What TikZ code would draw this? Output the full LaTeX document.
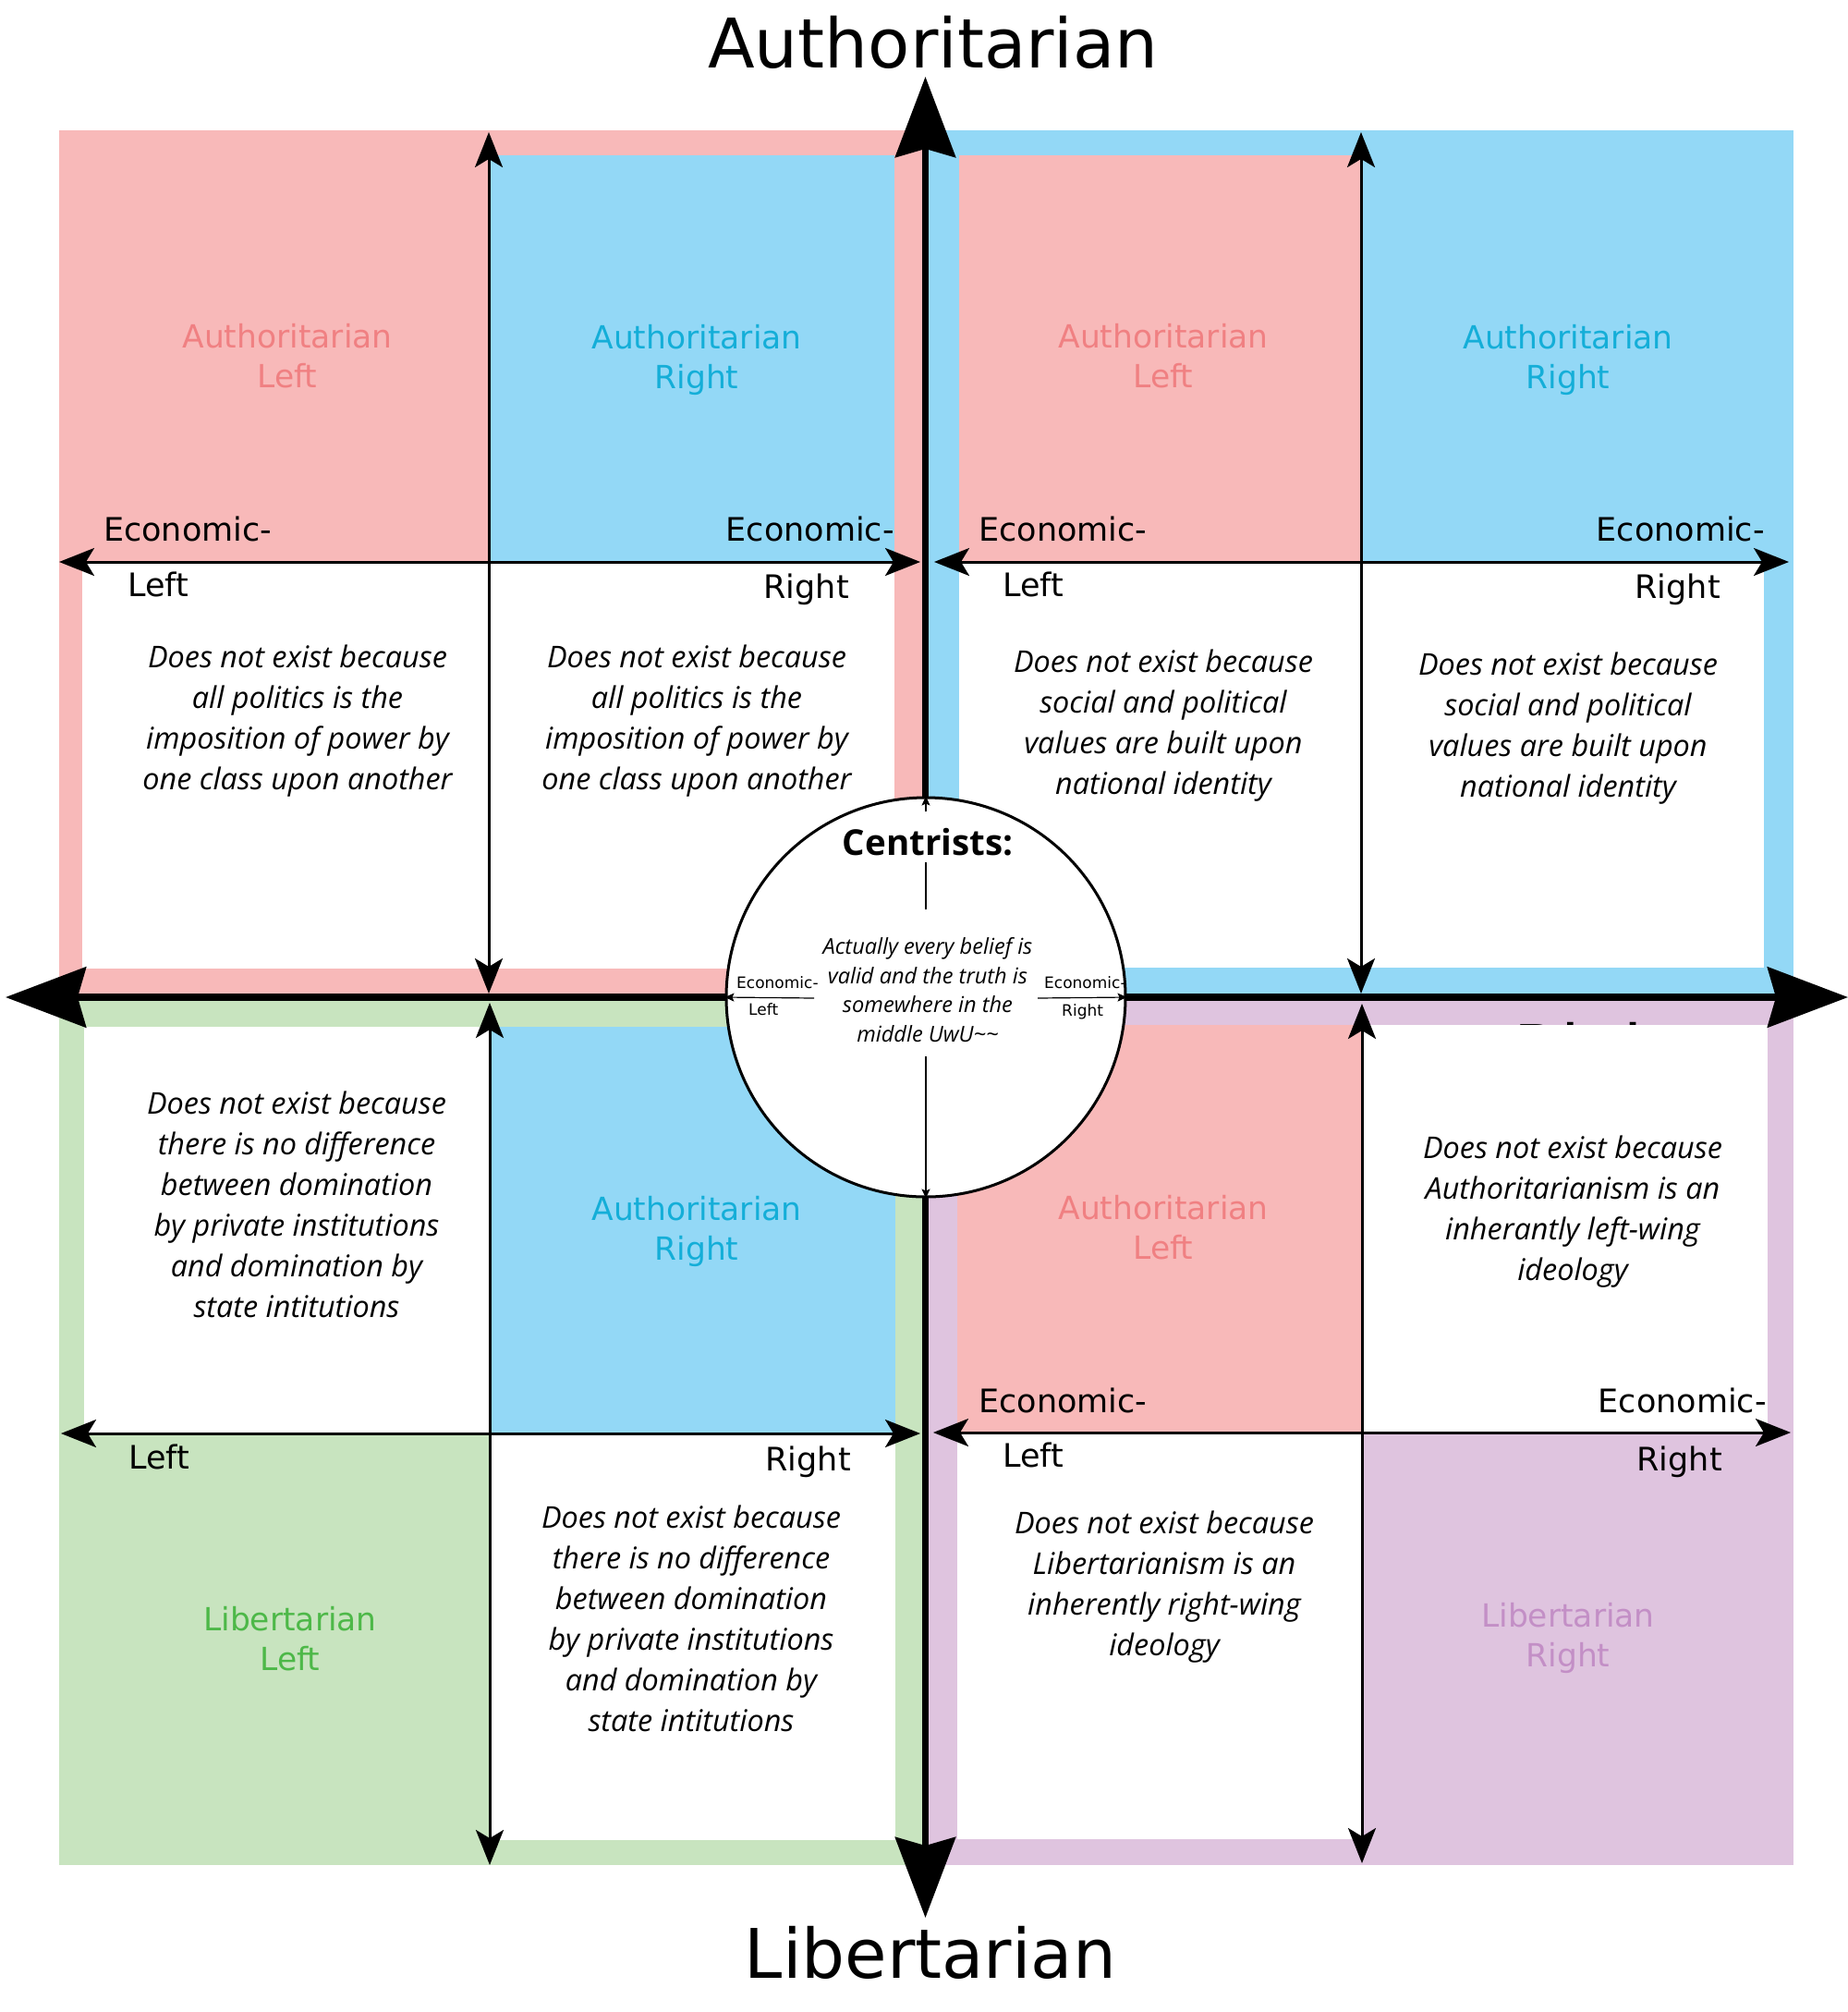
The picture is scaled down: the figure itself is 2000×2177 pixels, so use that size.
\documentclass[tikz,border=0pt]{standalone}
\usepackage{fontspec}
\setmainfont{DejaVu Sans}
\newfontfamily\osans{Open Sans}
\usetikzlibrary{arrows.meta}
\definecolor{pinkF}{RGB}{248,185,185}
\definecolor{blueF}{RGB}{147,216,246}
\definecolor{greenF}{RGB}{200,228,191}
\definecolor{purpleF}{RGB}{223,196,223}
\definecolor{pinkT}{RGB}{240,128,130}
\definecolor{blueT}{RGB}{20,174,216}
\definecolor{greenT}{RGB}{77,184,72}
\definecolor{purpleT}{RGB}{195,143,198}
\tikzset{
  qlabel/.style={font=\fontsize{34.5}{43}\selectfont, align=center, inner sep=0pt},
  note/.style={font=\osans\itshape\fontsize{32.4}{44}\selectfont, align=center, inner sep=0pt},
  econ/.style={font=\fontsize{35}{42}\selectfont, inner sep=0pt},
  smallecon/.style={font=\fontsize{17}{20}\selectfont, inner sep=0pt},
  title/.style={font=\fontsize{74}{80}\selectfont, inner sep=0pt, anchor=base},
  subaxis/.style={line width=3pt, {Stealth[length=38pt,width=30pt,inset=9pt]}-{Stealth[length=38pt,width=30pt,inset=9pt]}},
  mainaxis/.style={line width=7.5pt, {Stealth[length=87pt,width=65pt,inset=9pt]}-{Stealth[length=87pt,width=65pt,inset=9pt]}},
  inaxis/.style={line width=1.2pt, -{Stealth[length=10pt,width=9pt,inset=2pt]}},
  inline/.style={line width=1.2pt}
}
\begin{document}
\begin{tikzpicture}[x=1pt,y=-1pt]
\useasboundingbox (0,0) rectangle (2000,2177);

% ---------- top-left quadrant ----------
\fill[pinkF] (64,141) rectangle (1000,1079);
\fill[blueF] (529,168) rectangle (968,608);
\fill[white] (89,608) rectangle (968,1048);
% ---------- top-right quadrant ----------
\fill[blueF] (1000,141) rectangle (1941,1079);
\fill[pinkF] (1038,168) rectangle (1473,608);
\fill[white] (1038,608) rectangle (1909,1047);
% ---------- bottom-left quadrant ----------
\fill[greenF] (64,1079) rectangle (1000,2018);
\fill[white] (91,1111) rectangle (530,1551);
\fill[blueF] (530,1111) rectangle (969,1551);
\fill[white] (530,1551) rectangle (969,1991);
% ---------- bottom-right quadrant ----------
\fill[purpleF] (1000,1079) rectangle (1941,2018);
\node[font=\fontsize{74}{80}\selectfont, inner sep=0pt, anchor=base west] (hidden) at (1638,1162) {Right};
\fill[pinkF] (1036,1109) rectangle (1474,1550);
\fill[white] (1474,1109) rectangle (1913,1550);
\fill[white] (1036,1550) rectangle (1474,1990);

% ---------- axis end points ----------
\coordinate (tlT) at (529,143);  \coordinate (tlB) at (529,1075);
\coordinate (tlL) at (64,608);   \coordinate (tlR) at (996,608);
\coordinate (trT) at (1473,143); \coordinate (trB) at (1473,1075);
\coordinate (trL) at (1011,608); \coordinate (trR) at (1936,608);
\coordinate (blT) at (530,1085); \coordinate (blB) at (530,2018);
\coordinate (blL) at (66,1551);  \coordinate (blR) at (996,1551);
\coordinate (brT) at (1474,1086); \coordinate (brB) at (1474,2016);
\coordinate (brL) at (1010,1550); \coordinate (brR) at (1938,1550);
\coordinate (mT) at (1001.5,83);  \coordinate (mB) at (1001.5,2075);
\coordinate (mL) at (6,1079);     \coordinate (mR) at (2000,1079);

\draw[subaxis] (tlT) -- (tlB);
\draw[subaxis] (tlL) -- (tlR);
\draw[subaxis] (trT) -- (trB);
\draw[subaxis] (trL) -- (trR);
\draw[subaxis] (blT) -- (blB);
\draw[subaxis] (blL) -- (blR);
\draw[subaxis] (brT) -- (brB);
\draw[subaxis] (brL) -- (brR);

\draw[mainaxis] (mT) -- (mB);
\draw[mainaxis] (mL) -- (mR);

% ---------- titles ----------
\node[title] (auth) at (1010,73.6) {Authoritarian};
\node[title] (lib) at (1007,2140) {Libertarian};

% ---------- quadrant labels ----------
\node[qlabel, text=pinkT] (tlAL) at (311,385) {Authoritarian\\Left};
\node[qlabel, text=blueT] (tlAR) at (754,389) {Authoritarian\\Right};
\node[qlabel, text=pinkT] (trAL) at (1259,385) {Authoritarian\\Left};
\node[qlabel, text=blueT] (trAR) at (1697,389) {Authoritarian\\Right};
\node[qlabel, text=blueT] (blAR) at (754,1332) {Authoritarian\\Right};
\node[qlabel, text=greenT] (blLL) at (314,1773) {Libertarian\\Left};
\node[qlabel, text=pinkT] (brAL) at (1259,1328) {Authoritarian\\Left};
\node[qlabel, text=purpleT] (brLR) at (1697,1772) {Libertarian\\Right};

% ---------- economic labels ----------
\node[econ, anchor=base west] (tlE1) at (112,585.5) {Economic-};
\node[econ, anchor=base west] (tlL1) at (138,645) {Left};
\node[econ, anchor=base east] (tlE2) at (968,585.5) {Economic-};
\node[econ, anchor=base east] (tlR2) at (919,647) {Right};
\node[econ, anchor=base west] (trE1) at (1059,585.5) {Economic-};
\node[econ, anchor=base west] (trL1) at (1085,645) {Left};
\node[econ, anchor=base east] (trE2) at (1910,585.5) {Economic-};
\node[econ, anchor=base east] (trR2) at (1862,647) {Right};
\node[econ, anchor=base west] (blL1) at (139,1589) {Left};
\node[econ, anchor=base east] (blR2) at (921,1591) {Right};
\node[econ, anchor=base west] (brE1) at (1059,1528) {Economic-};
\node[econ, anchor=base west] (brL1) at (1085,1587) {Left};
\node[econ, anchor=base east] (brE2) at (1912,1528) {Economic-};
\node[econ, anchor=base east] (brR2) at (1864,1591) {Right};

% ---------- notes ----------
\node[note] (n1) at (322,780) {Does not exist because\\all politics is the\\imposition of power by\\one class upon another};
\node[note] (n2) at (754,780) {Does not exist because\\all politics is the\\imposition of power by\\one class upon another};
\node[note] (n3) at (1259,785) {Does not exist because\\social and political\\values are built upon\\national identity};
\node[note] (n4) at (1697,788) {Does not exist because\\social and political\\values are built upon\\national identity};
\node[note] (n5) at (321,1303) {Does not exist because\\there is no difference\\between domination\\by private institutions\\and domination by\\state intitutions};
\node[note] (n6) at (748,1751) {Does not exist because\\there is no difference\\between domination\\by private institutions\\and domination by\\state intitutions};
\node[note] (n7) at (1702,1311) {Does not exist because\\Authoritarianism is an\\inherantly left-wing\\ideology};
\node[note] (n8) at (1260,1717) {Does not exist because\\Libertarianism is an\\inherently right-wing\\ideology};

% ---------- centre circle ----------
\node[circle, draw, line width=3pt, fill=white, minimum size=432pt, inner sep=0pt] (c) at (1002,1079) {};
\coordinate (ctop) at (1002,878);
\coordinate (cmid1) at (1002,933);
\coordinate (cmid2) at (1002,984);
\coordinate (cbot) at (1002,1143);
\coordinate (cleft) at (881,1080);
\coordinate (cright) at (1123,1080);
\draw[inaxis] (ctop) -- (c.north);
\draw[inline] (cmid1) -- (cmid2);
\draw[inaxis] (cbot) -- (c.south);
\draw[inaxis] (cleft) -- (c.west);
\draw[inaxis] (cright) -- (c.east);
\node[font=\osans\bfseries\fontsize{38.5}{42}\selectfont, inner sep=0pt, anchor=base] (cen) at (1004,925) {Centrists:};
\node[font=\osans\itshape\fontsize{23.6}{31.5}\selectfont, align=center, inner sep=0pt] (ctext) at (1004,1071) {Actually every belief is\\valid and the truth is\\somewhere in the\\middle UwU\textasciitilde\textasciitilde};
\node[smallecon, anchor=base west] (cE1) at (797,1069) {Economic-};
\node[smallecon, anchor=base west] (cL1) at (810,1098) {Left};
\node[smallecon, anchor=base west] (cE2) at (1130,1069) {Economic-};
\node[smallecon, anchor=base west] (cR2) at (1149,1099) {Right};
\end{tikzpicture}
\end{document}
